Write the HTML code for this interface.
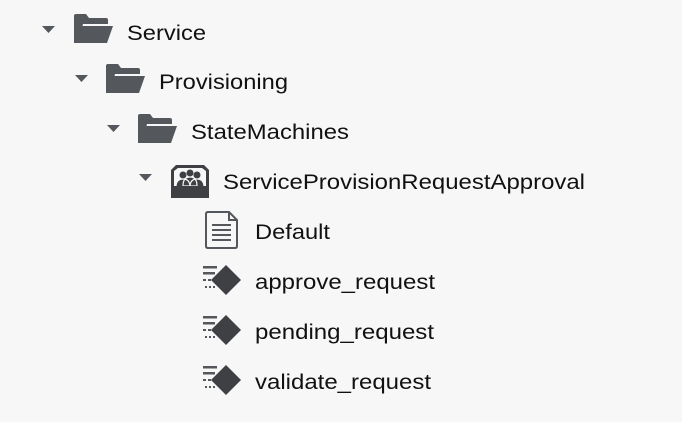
<!DOCTYPE html>
<html><head><style>
html,body{margin:0;padding:0;background:#f7f7f7;}
svg{display:block}
text{font-family:"Liberation Sans",Arial,sans-serif;font-size:21px;fill:#111;}
</style></head><body>
<svg width="682" height="422" viewBox="0 0 682 422">
<defs>
<g id="tri"><path d="M0 0 H13 L6.5 7 Z" fill="#54575b"/></g>
<g id="folder">
<path d="M0 2 Q0 0 2 0 H12 L15 4 H32 Q34 4 34 6 V10 H9 L4 29 H0 Z" fill="#54575b"/>
<path d="M8 12 H39 L33 29 H2 Z" fill="#54575b"/>
</g>
<g id="diam">
<rect x="0" y="1" width="14" height="2.5" fill="#54575b"/>
<rect x="0" y="7" width="12" height="2.5" fill="#54575b"/>
<rect x="0" y="14" width="3" height="2" fill="#54575b"/><rect x="5" y="14" width="3" height="2" fill="#54575b"/><rect x="10" y="14" width="3" height="2" fill="#54575b"/>
<rect x="2" y="21" width="2" height="2" fill="#54575b"/><rect x="6" y="21" width="2" height="2" fill="#54575b"/><rect x="10" y="21" width="2" height="2" fill="#54575b"/>
<path d="M23 0 L38 15 L23 30 L8 15 Z" fill="#3e4044"/>
</g>
</defs>
<use href="#tri" x="42" y="26"/><use href="#folder" x="74" y="14"/><text x="127" y="40" textLength="79" lengthAdjust="spacingAndGlyphs">Service</text>
<use href="#tri" x="75" y="75"/><use href="#folder" x="106" y="64"/><text x="159" y="89" textLength="129" lengthAdjust="spacingAndGlyphs">Provisioning</text>
<use href="#tri" x="107" y="125"/><use href="#folder" x="138" y="114"/><text x="191" y="139" textLength="158" lengthAdjust="spacingAndGlyphs">StateMachines</text>
<use href="#tri" x="139" y="174"/>
<g transform="translate(171,165)">
<path d="M5 0 H33 L38 5 V33 H0 V5 Z" fill="#3e4044"/>
<path d="M3 6 L7 3 H31 L35 6 V21 H3 Z" fill="#f7f7f7"/>
<circle cx="12" cy="10" r="3.5" fill="#3e4044"/><circle cx="19" cy="8" r="3.5" fill="#3e4044"/><circle cx="26" cy="10" r="3.5" fill="#3e4044"/>
<path d="M5 22 Q5 14 12 14 Q19 14 19 22 Z M12 21 Q12 12 19 12 Q26 12 26 21 Z M19 22 Q19 14 26 14 Q33 14 33 22 Z" fill="#3e4044" stroke="#f7f7f7" stroke-width="1.2"/>
<rect x="3" y="21" width="32" height="10" fill="#3e4044"/>
</g>
<text x="223" y="189" textLength="362" lengthAdjust="spacingAndGlyphs">ServiceProvisionRequestApproval</text>
<g transform="translate(205,211)" fill="none" stroke="#54575b" stroke-width="2">
<path d="M2 1 H24 L32 9 V35 Q32 37 30 37 H3 Q1 37 1 35 V3 Q1 1 3 1 Z"/>
<path d="M24 1 V9 H32"/>
<path d="M7 14 H26 M7 19 H26 M7 24 H26 M7 29 H26"/>
</g>
<text x="255" y="239" textLength="75" lengthAdjust="spacingAndGlyphs">Default</text>
<use href="#diam" x="203" y="265"/><text x="255" y="289" textLength="180" lengthAdjust="spacingAndGlyphs">approve_request</text>
<use href="#diam" x="203" y="315"/><text x="255" y="339" textLength="179" lengthAdjust="spacingAndGlyphs">pending_request</text>
<use href="#diam" x="203" y="365"/><text x="255" y="389" textLength="176" lengthAdjust="spacingAndGlyphs">validate_request</text>
</svg>
</body></html>
